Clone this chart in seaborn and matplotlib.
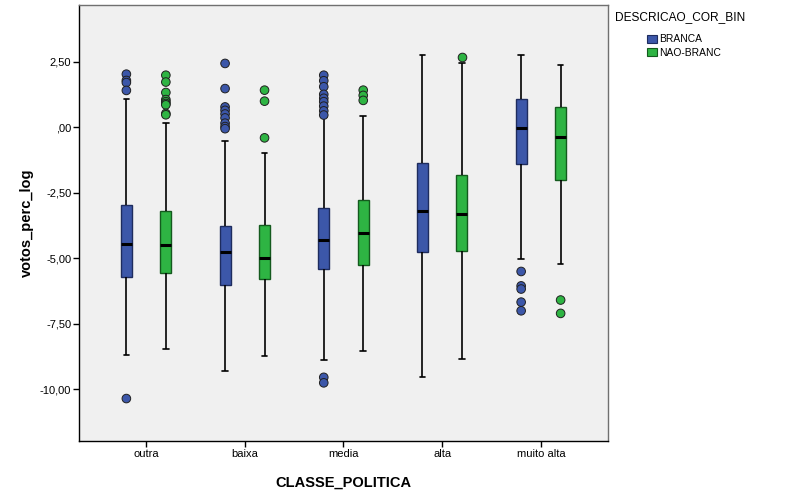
import numpy as np
import pandas as pd
import seaborn as sns
import matplotlib.pyplot as plt
from matplotlib.patches import Patch

# ---------------- data ----------------
categories = ["outra", "baixa", "media", "alta", "muito alta"]
groups = ["BRANCA", "NAO-BRANC"]

# five-number summaries per category (whisker low, Q1, median, Q3, whisker high)
branca_lo  = [-8.69, -9.31, -8.87, -9.54, -5.03]
branca_q1  = [-5.73, -6.03, -5.41, -4.77, -1.42]
branca_med = [-4.45, -4.77, -4.29, -3.22, -0.03]
branca_q3  = [-2.97, -3.77, -3.07, -1.37, 1.06]
branca_hi  = [1.07, -0.52, 0.40, 2.75, 2.76]

nbranc_lo  = [-8.45, -8.73, -8.54, -8.85, -5.22]
nbranc_q1  = [-5.56, -5.81, -5.25, -4.71, -2.00]
nbranc_med = [-4.49, -4.99, -4.06, -3.31, -0.39]
nbranc_q3  = [-3.22, -3.75, -2.80, -1.84, 0.75]
nbranc_hi  = [0.17, -0.97, 0.41, 2.43, 2.37]

# outliers
branca_out = {
    "outra": [2.02, 1.78, 1.70, 1.40, -10.36],
    "baixa": [2.43, 1.47, 0.77, 0.64, 0.50, 0.35, 0.15, 0.02, -0.06],
    "media": [1.98, 1.77, 1.54, 1.25, 1.10, 0.97, 0.80, 0.62, 0.46, -9.55, -9.76],
    "alta": [],
    "muito alta": [-5.51, -6.06, -6.18, -6.68, -7.01],
}
nbranc_out = {
    "outra": [1.98, 1.72, 1.32, 1.05, 0.97, 0.90, 0.85, 0.52, 0.47],
    "baixa": [1.41, 0.99, -0.41],
    "media": [1.41, 1.21, 1.02],
    "alta": [2.68],
    "muito alta": [-6.60, -7.11],
}

ytick_vals = [2.5, 0.0, -2.5, -5.0, -7.5, -10.0]
ytick_labels = ["2,50", ",00", "-2,50", "-5,00", "-7,50", "-10,00"]

# ---------------- build tables ----------------
rows = []
summ = {
    "BRANCA": (branca_lo, branca_q1, branca_med, branca_q3, branca_hi),
    "NAO-BRANC": (nbranc_lo, nbranc_q1, nbranc_med, nbranc_q3, nbranc_hi),
}
for g, arrs in summ.items():
    for i, c in enumerate(categories):
        for a in arrs:
            rows.append({"CLASSE_POLITICA": c, "DESCRICAO_COR_BIN": g, "votos_perc_log": a[i]})
box_df = pd.DataFrame(rows)

orow = []
for g, d in (("BRANCA", branca_out), ("NAO-BRANC", nbranc_out)):
    for c in categories:
        for v in d[c]:
            orow.append({"CLASSE_POLITICA": c, "DESCRICAO_COR_BIN": g, "votos_perc_log": v})
out_df = pd.DataFrame(orow)

# ---------------- style ----------------
sns.set_style("white")
plt.rcParams["font.family"] = ["Liberation Sans", "DejaVu Sans"]
plt.rcParams["text.color"] = "black"
plt.rcParams["axes.labelcolor"] = "black"
plt.rcParams["xtick.color"] = "black"
plt.rcParams["ytick.color"] = "black"

blue = "#3C57A9"
green = "#2EB443"
blue_edge = "#1E2C5E"
green_edge = "#145A1E"
palette = {"BRANCA": blue, "NAO-BRANC": green}

fig = plt.figure(figsize=(8.12, 5.01), dpi=100)
ax = fig.add_axes([79 / 812, 1 - 441 / 501, (608 - 79) / 812, (441 - 5) / 501])
ax.set_facecolor("#F0F0F0")

sns.boxplot(
    data=box_df, x="CLASSE_POLITICA", y="votos_perc_log", hue="DESCRICAO_COR_BIN",
    order=categories, hue_order=groups, palette=palette, whis=np.inf,
    width=0.8, gap=0.72, showfliers=False, linecolor="black", linewidth=1.2,
    saturation=1, medianprops=dict(color="black", linewidth=2.2),
    legend=False, ax=ax,
)
# box edge colours
for p in ax.patches:
    fc = p.get_facecolor()
    r, g_, b = fc[:3]
    p.set_edgecolor(blue_edge if b > g_ else green_edge)
    p.set_linewidth(1.0)

sns.stripplot(
    data=out_df, x="CLASSE_POLITICA", y="votos_perc_log", hue="DESCRICAO_COR_BIN",
    order=categories, hue_order=groups, palette=palette, dodge=True, jitter=False,
    size=6.2, linewidth=0.7, edgecolor="#202020", legend=False, ax=ax, zorder=5,
)

ax.set_xlim(-0.68, 4.68)
ax.set_ylim(-11.98, 4.66)
ax.set_yticks(ytick_vals)
ax.set_yticklabels(ytick_labels)
ax.tick_params(axis="both", which="both", direction="out", length=4, width=1,
               color="black", labelcolor="black", labelsize=8, pad=1.5,
               left=True, bottom=True)
ax.set_xlabel("CLASSE_POLITICA", fontsize=10.5, fontweight="bold", labelpad=12,
              color="black")
ax.set_ylabel("votos_perc_log", fontsize=10.5, fontweight="bold", labelpad=4,
              color="black")

for s in ("left", "bottom"):
    ax.spines[s].set_color("black")
    ax.spines[s].set_linewidth(1.0)
for s in ("top", "right"):
    ax.spines[s].set_color("#707070")
    ax.spines[s].set_linewidth(1.0)

# legend
fig.text(615 / 812, 1 - 17 / 501, "DESCRICAO_COR_BIN", fontsize=8.6, va="center",
         ha="left", color="black")
handles = [Patch(facecolor=blue, edgecolor=blue_edge, linewidth=0.8),
           Patch(facecolor=green, edgecolor=green_edge, linewidth=0.8)]
leg = fig.legend(handles, groups, loc="upper left", bbox_to_anchor=(647 / 812, 1 - 34.5 / 501),
                 frameon=False, fontsize=7.4, handlelength=0.95, handleheight=0.95,
                 handletextpad=0.25, labelspacing=0.3, borderpad=0, borderaxespad=0)
for t in leg.get_texts():
    t.set_color("black")

fig.savefig("out.png", dpi=100)
